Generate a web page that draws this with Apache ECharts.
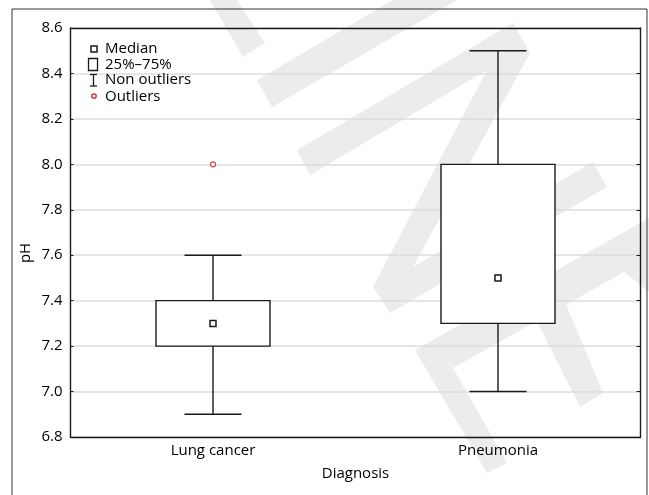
<!DOCTYPE html>
<html>
<head>
<meta charset="utf-8">
<script src="https://cdn.jsdelivr.net/npm/echarts@6/dist/echarts.min.js"></script>
<style>
html,body{margin:0;padding:0;background:#fff;}
#chart{width:649px;height:495px;}
</style>
</head>
<body>
<div id="chart"></div>
<script>
const categories = ['Lung cancer', 'Pneumonia'];
const whiskerLow = [6.9, 7.0];
const q1 = [7.2, 7.3];
const median = [7.3, 7.5];
const q3 = [7.4, 8.0];
const whiskerHigh = [7.6, 8.5];
const outlierCategory = ['Lung cancer'];
const outlierValue = [8.0];
const yTicks = ['6.8','7.0','7.2','7.4','7.6','7.8','8.0','8.2','8.4','8.6'];
const legendLabels = ['Median', '25%–75%', 'Non outliers', 'Outliers'];

const FONT = '"Open Sans", "Noto Sans", sans-serif';
const FS = 15;
const LINE = '#1a1a1a';
const RED = '#c0222b';
const WM = '#ececec';

const boxData = categories.map((c, i) => [i, whiskerLow[i], q1[i], median[i], q3[i], whiskerHigh[i]]);
const outlierData = outlierCategory.map((c, i) => [c, outlierValue[i]]);

function renderBox(params, api) {
  const idx = api.value(0);
  const cx = api.coord([idx, api.value(3)])[0];
  const band = api.size([1, 0])[0];
  const boxW = band * 0.4;
  const capW = band * 0.2;
  const yLo = api.coord([idx, api.value(1)])[1];
  const yQ1 = api.coord([idx, api.value(2)])[1];
  const yMed = api.coord([idx, api.value(3)])[1];
  const yQ3 = api.coord([idx, api.value(4)])[1];
  const yHi = api.coord([idx, api.value(5)])[1];
  const ls = {stroke: LINE, lineWidth: 1.4, fill: null};
  return {
    type: 'group',
    children: [
      {type: 'line', shape: {x1: cx, y1: yHi, x2: cx, y2: yQ3}, style: ls},
      {type: 'line', shape: {x1: cx - capW / 2, y1: yHi, x2: cx + capW / 2, y2: yHi}, style: ls},
      {type: 'line', shape: {x1: cx, y1: yQ1, x2: cx, y2: yLo}, style: ls},
      {type: 'line', shape: {x1: cx - capW / 2, y1: yLo, x2: cx + capW / 2, y2: yLo}, style: ls},
      {type: 'rect', shape: {x: cx - boxW / 2, y: yQ3, width: boxW, height: yQ1 - yQ3},
        style: {stroke: LINE, lineWidth: 1.4, fill: '#fff'}},
      {type: 'rect', shape: {x: cx - 3, y: yMed - 3, width: 6, height: 6},
        style: {stroke: LINE, lineWidth: 1.5, fill: '#fff'}}
    ]
  };
}

const wmPolys = [
  [[210,0],[237,0],[265,43],[243,57]],
  [[257,80],[393,0],[457,0],[272,107]],
  [[297,150],[513,23],[530,53],[413,267],[593,162],[607,187],[390,313],[373,287],[487,70],[310,175]],
  [[415,350],[649,218],[649,258],[453,368]],
  [[415,350],[453,368],[507,463],[487,473]],
  [[530,307],[560,290],[603,393],[580,407]],
  [[623,271],[649,256],[649,292]]
];

const graphics = wmPolys.map(p => ({
  type: 'polygon', z: -10, silent: true,
  shape: {points: p}, style: {fill: WM}
}));
graphics.push({
  type: 'rect', z: 100, silent: true,
  shape: {x: 12, y: 9, width: 635, height: 520},
  style: {stroke: '#333', lineWidth: 1, fill: null}
});
graphics.push({
  type: 'text', z: 100, x: 26, y: 253, rotation: Math.PI / 2,
  style: {text: 'pH', font: FS + 'px ' + FONT, fill: '#000', align: 'center', verticalAlign: 'middle'}
});
// legend
graphics.push({type: 'rect', z: 100, shape: {x: 91, y: 46, width: 6, height: 6},
  style: {stroke: LINE, lineWidth: 1.5, fill: '#fff'}});
graphics.push({type: 'rect', z: 100, shape: {x: 88.5, y: 58.5, width: 9, height: 12},
  style: {stroke: LINE, lineWidth: 1.3, fill: '#fff'}});
graphics.push({type: 'polyline', z: 100, shape: {points: [[90, 74.5], [97, 74.5]]}, style: {stroke: LINE, lineWidth: 1.3}});
graphics.push({type: 'polyline', z: 100, shape: {points: [[93.5, 74.5], [93.5, 86]]}, style: {stroke: LINE, lineWidth: 1.3}});
graphics.push({type: 'polyline', z: 100, shape: {points: [[90, 86], [97, 86]]}, style: {stroke: LINE, lineWidth: 1.3}});
graphics.push({type: 'circle', z: 100, shape: {cx: 94, cy: 96, r: 2.2},
  style: {stroke: RED, lineWidth: 1.3, fill: '#fff'}});
const legendY = [49, 65, 80, 97];
legendLabels.forEach((t, i) => {
  graphics.push({type: 'text', z: 100, x: 105, y: legendY[i],
    style: {text: t, font: FS + 'px ' + FONT, fill: '#000', verticalAlign: 'middle'}});
});

const chart = echarts.init(document.getElementById('chart'), null, {renderer: 'canvas'});
chart.setOption({
  animation: false,
  backgroundColor: '#fff',
  grid: {left: 70.5, right: 8.5, top: 28, bottom: 58},
  graphic: graphics,
  xAxis: [{
    type: 'category', data: categories, position: 'bottom',
    axisLine: {lineStyle: {color: LINE, width: 1.4}},
    axisTick: {inside: true, alignWithLabel: true, length: 4, lineStyle: {color: LINE}},
    axisLabel: {color: '#000', fontFamily: FONT, fontSize: FS, margin: 6},
    name: 'Diagnosis', nameLocation: 'middle', nameGap: 29,
    nameTextStyle: {color: '#000', fontFamily: FONT, fontSize: FS}
  }, {
    type: 'category', data: categories, position: 'top',
    axisLine: {lineStyle: {color: LINE, width: 1.4}},
    axisTick: {inside: true, alignWithLabel: true, length: 4, lineStyle: {color: LINE}},
    axisLabel: {show: false}
  }],
  yAxis: [{
    type: 'value', min: 6.8, max: 8.6, interval: 0.2, position: 'left',
    axisLine: {show: true, lineStyle: {color: LINE, width: 1.4}},
    axisTick: {show: true, inside: true, length: 3, lineStyle: {color: LINE}},
    axisLabel: {color: '#000', fontFamily: FONT, fontSize: FS, margin: 8,
      formatter: (v) => { const s = v.toFixed(1); return yTicks.includes(s) ? s : ''; }},
    splitLine: {show: true, lineStyle: {color: '#dcdcdc', width: 1.5}}
  }, {
    type: 'value', min: 6.8, max: 8.6, interval: 0.2, position: 'right',
    axisLine: {show: true, lineStyle: {color: LINE, width: 1.4}},
    axisTick: {show: true, inside: true, length: 4, lineStyle: {color: LINE}},
    axisLabel: {show: false},
    splitLine: {show: false}
  }],
  series: [{
    type: 'custom', xAxisIndex: 0, yAxisIndex: 0,
    renderItem: renderBox, data: boxData, z: 5
  }, {
    type: 'scatter', xAxisIndex: 0, yAxisIndex: 0, data: outlierData,
    symbol: 'circle', symbolSize: 5,
    itemStyle: {color: '#fff', borderColor: RED, borderWidth: 1.3}, z: 6
  }]
});
</script>
</body>
</html>
